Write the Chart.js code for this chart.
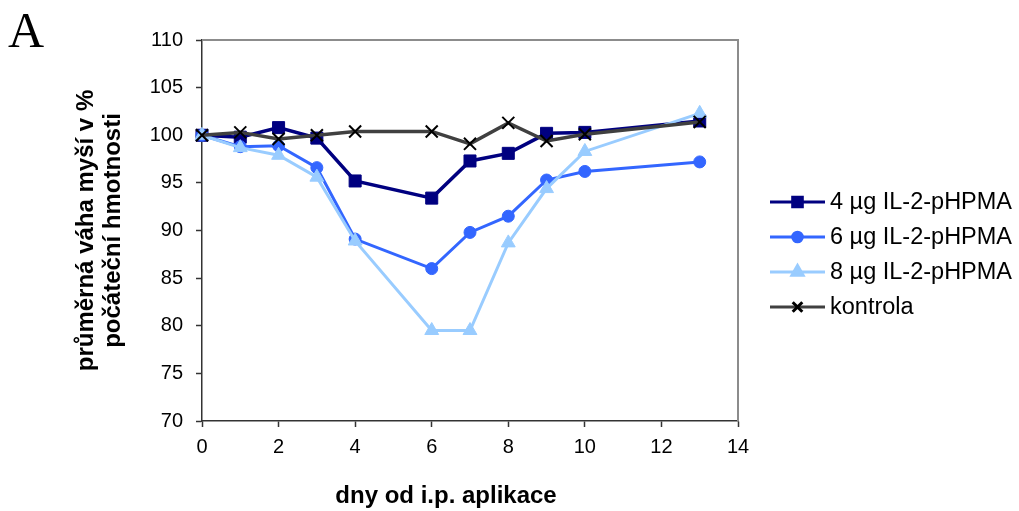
<!DOCTYPE html>
<html>
<head>
<meta charset="utf-8">
<script src="https://cdn.jsdelivr.net/npm/chart.js@4/dist/chart.umd.min.js"></script>
<style>
  html, body { margin: 0; padding: 0; background: #fff; }
</style>
</head>
<body>
<canvas id="chart" width="1019" height="511"></canvas>
<script>
// days after i.p. application and mean body weight (% of starting weight)
const days = [0, 1, 2, 3, 4, 6, 7, 8, 9, 10, 13];
const dose4 = [100, 99.8, 100.8, 99.7, 95.2, 93.4, 97.3, 98.1, 100.2, 100.3, 101.5];
const dose6 = [100, 98.8, 98.9, 96.6, 89.1, 86.0, 89.8, 91.5, 95.3, 96.2, 97.2];
const dose8 = [100, 98.7, 97.9, 95.6, 88.9, 79.5, 79.5, 88.7, 94.4, 98.3, 102.3];
const control = [100, 100.3, 99.6, 100.0, 100.4, 100.4, 99.1, 101.3, 99.4, 100.1, 101.4];

const seriesNames = ["4 µg IL-2-pHPMA", "6 µg IL-2-pHPMA", "8 µg IL-2-pHPMA", "kontrola"];
const xTicks = { min: 0, max: 14, step: 2 };
const yTicks = { min: 70, max: 110, step: 5 };
const xTitle = "dny od i.p. aplikace";
const yTitle = ["průměrná váha myší v %", "počáteční hmotnosti"];

const FONT = "'Liberation Sans', Arial, sans-serif";

function points(values) {
    return days.map((d, i) => ({ x: d, y: values[i] }));
}

// legend on the right: line sample with the marker in the middle
const sideLegend = {
    id: "sideLegend",
    afterDraw(chart) {
        const ctx = chart.ctx;
        const x0 = 770, x1 = 825, top = 202, gap = 35;
        chart.data.datasets.forEach((ds, i) => {
            const y = top + i * gap;
            ctx.save();
            ctx.strokeStyle = ds.borderColor;
            ctx.lineWidth = 3;
            ctx.beginPath();
            ctx.moveTo(x0, y);
            ctx.lineTo(x1, y);
            ctx.stroke();
            ctx.fillStyle = ds.pointBackgroundColor;
            ctx.strokeStyle = ds.pointBorderColor;
            Chart.helpers.drawPoint(ctx, {
                pointStyle: ds.pointStyle,
                radius: ds.pointRadius * 0.8,
                borderWidth: ds.pointBorderWidth,
                rotation: 0
            }, (x0 + x1) / 2, y);
            ctx.fillStyle = "#000";
            ctx.font = "23.5px " + FONT;
            ctx.textBaseline = "middle";
            ctx.textAlign = "left";
            ctx.fillText(ds.label, 830, y + 1);
            ctx.restore();
        });
    }
};

// gray frame on the top and right of the plot area, x title, panel letter
const frame = {
    id: "frame",
    beforeDatasetsDraw(chart) {
        const { left, right, top, bottom } = chart.chartArea;
        const ctx = chart.ctx;
        ctx.save();
        ctx.strokeStyle = "#8c8c8c";
        ctx.lineWidth = 2;
        ctx.beginPath();
        ctx.moveTo(left, top);
        ctx.lineTo(right, top);
        ctx.lineTo(right, bottom);
        ctx.stroke();
        ctx.restore();
    },
    afterDraw(chart) {
        const ctx = chart.ctx;
        ctx.save();
        ctx.fillStyle = "#000";
        ctx.font = "bold 24px " + FONT;
        ctx.textAlign = "center";
        ctx.textBaseline = "alphabetic";
        ctx.fillText(xTitle, 446, 503);
        ctx.font = "50px 'Liberation Serif', 'Times New Roman', serif";
        ctx.textAlign = "left";
        ctx.fillText("A", 8, 47);
        ctx.restore();
    }
};

const ctx = document.getElementById("chart").getContext("2d");

new Chart(ctx, {
    type: "line",
    data: {
        datasets: [
            {
                label: seriesNames[0],
                data: points(dose4),
                borderColor: "#000080",
                pointBackgroundColor: "#000080",
                pointBorderColor: "#000080",
                pointStyle: "rect",
                pointRadius: 8.5,
                pointBorderWidth: 1,
                borderWidth: 3.5,
                order: 3
            },
            {
                label: seriesNames[1],
                data: points(dose6),
                borderColor: "#3366ff",
                pointBackgroundColor: "#3366ff",
                pointBorderColor: "#3366ff",
                pointStyle: "circle",
                pointRadius: 6,
                pointBorderWidth: 1,
                borderWidth: 3,
                order: 2
            },
            {
                label: seriesNames[2],
                data: points(dose8),
                borderColor: "#99ccff",
                pointBackgroundColor: "#99ccff",
                pointBorderColor: "#99ccff",
                pointStyle: "triangle",
                pointRadius: 8,
                pointBorderWidth: 1,
                borderWidth: 3,
                order: 1
            },
            {
                label: seriesNames[3],
                data: points(control),
                borderColor: "#404040",
                pointBackgroundColor: "#000",
                pointBorderColor: "#000",
                pointStyle: "crossRot",
                pointRadius: 8.5,
                pointBorderWidth: 2,
                borderWidth: 3.5,
                order: 0
            }
        ]
    },
    options: {
        responsive: false,
        animation: false,
        events: [],
        layout: { padding: { top: 40, right: 281, left: 0, bottom: 0 } },
        elements: { line: { tension: 0 } },
        datasets: { line: { clip: false } },
        plugins: {
            legend: { display: false },
            tooltip: { enabled: false }
        },
        scales: {
            x: {
                type: "linear",
                min: xTicks.min,
                max: xTicks.max,
                afterFit(scale) { scale.height = 90; },
                ticks: {
                    stepSize: xTicks.step,
                    color: "#000",
                    font: { family: FONT, size: 20 },
                    padding: 8,
                    maxRotation: 0
                },
                grid: {
                    drawOnChartArea: false,
                    drawTicks: true,
                    tickLength: 6,
                    tickColor: "#333",
                    tickWidth: 1.5
                },
                border: { color: "#333", width: 1.5 }
            },
            y: {
                min: yTicks.min,
                max: yTicks.max,
                afterFit(scale) { scale.width = 202; },
                ticks: {
                    stepSize: yTicks.step,
                    color: "#000",
                    font: { family: FONT, size: 20 },
                    padding: 13
                },
                grid: {
                    drawOnChartArea: false,
                    drawTicks: true,
                    tickLength: 6,
                    tickColor: "#333",
                    tickWidth: 1.5
                },
                border: { color: "#333", width: 1.5 },
                title: {
                    display: true,
                    text: yTitle,
                    color: "#000",
                    font: { family: FONT, size: 24, weight: "bold", lineHeight: 1.1 },
                    padding: { top: 73.5, bottom: 0 }
                }
            }
        }
    },
    plugins: [sideLegend, frame]
});
</script>
</body>
</html>
